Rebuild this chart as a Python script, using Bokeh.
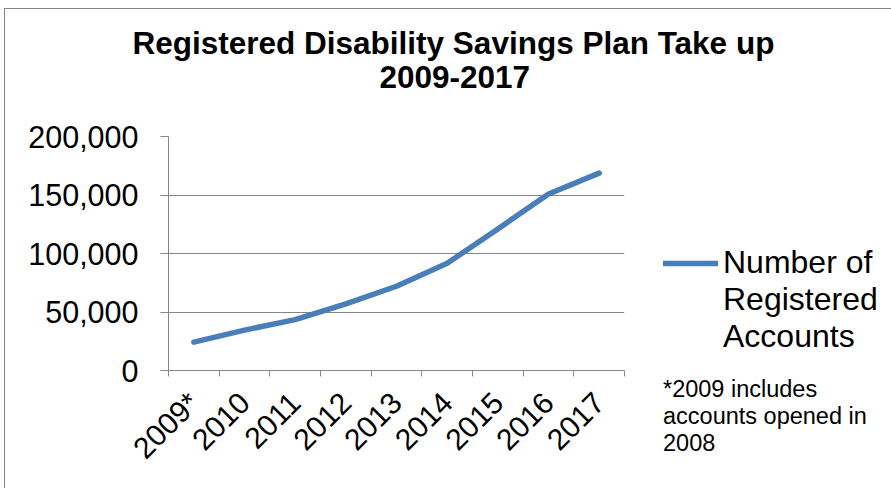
from bokeh.plotting import figure
from bokeh.models import (Range1d, FixedTicker, NumeralTickFormatter, Title,
                          Legend, LegendItem, ColumnDataSource)
from bokeh.embed import file_html
from bokeh.resources import INLINE

categories = ["2009*", "2010", "2011", "2012", "2013", "2014", "2015", "2016", "2017"]
accounts = [24200, 34500, 43500, 57000, 72000, 91600, 121000, 150800, 168700]
y_ticks = [0, 50000, 100000, 150000, 200000]
title_lines = ["Registered Disability Savings Plan Take up", "2009-2017"]
series_name = "Number of\nRegistered\nAccounts"
footnote = "*2009 includes\naccounts opened in\n2008"

FONT = "Liberation Sans"
GRAY = "#868686"
BLUE = "#4A7EBB"

xpos = [i + 0.5 for i in range(len(categories))]
src = ColumnDataSource(dict(x=xpos, y=accounts))

p = figure(frame_width=456, frame_height=234,
           x_range=Range1d(0, len(categories)), y_range=Range1d(0, 200000),
           output_backend="svg", toolbar_location=None,
           min_border_left=163, min_border_top=127, min_border_bottom=118,
           min_border_right=262)
p.outline_line_color = None
p.background_fill_color = "white"
p.border_fill_color = "white"
# chart-area border (left and top edges visible in the reference)
p.styles = {"border-left": "1px solid #868686", "border-top": "1px solid #868686",
            "margin-left": "4px", "margin-top": "8px"}

r = p.line("x", "y", source=src, line_color=BLUE, line_width=5.5,
           line_cap="round", line_join="round")

# y axis
yax = p.yaxis[0]
yax.ticker = FixedTicker(ticks=y_ticks)
yax.formatter = NumeralTickFormatter(format="0,0")
yax.axis_line_color = GRAY
yax.major_tick_line_color = GRAY
yax.major_tick_out = 8
yax.major_tick_in = 0
yax.minor_tick_line_color = None
yax.major_label_text_font = FONT
yax.major_label_text_font_size = "30.5px"
yax.major_label_text_color = "black"
yax.major_label_standoff = 22

# x axis: labels at category centres, ticks between categories
xax = p.xaxis[0]
xax.ticker = FixedTicker(ticks=xpos, minor_ticks=list(range(len(categories) + 1)))
xax.major_label_overrides = {x: c for x, c in zip(xpos, categories)}
xax.axis_line_color = GRAY
xax.major_tick_line_color = None
xax.major_tick_out = 0
xax.major_tick_in = 0
xax.minor_tick_line_color = GRAY
xax.minor_tick_out = 6
xax.minor_tick_in = 0
xax.major_label_orientation = 0.785398
xax.major_label_text_font = FONT
xax.major_label_text_font_size = "30px"
xax.major_label_text_color = "black"
xax.major_label_standoff = 21

p.xgrid.grid_line_color = None
p.ygrid.grid_line_color = GRAY
p.ygrid.grid_line_width = 1

# blank spacer between plot area and title
p.add_layout(Title(text=" ", text_font=FONT, text_font_size="10px", standoff=36), "above")

# title (two lines, centred on the chart area)
p.add_layout(Title(text=title_lines[1], align="left", offset=211, text_font=FONT,
                   text_font_style="bold", text_font_size="31.5px",
                   text_color="black", standoff=0), "above")
p.title.text = title_lines[0]
p.title.align = "left"
p.title.offset = -36
p.title.text_font = FONT
p.title.text_font_style = "bold"
p.title.text_font_size = "31.5px"
p.title.text_color = "black"
p.title.standoff = 6

legend = Legend(items=[LegendItem(label="\n\n" + series_name, renderers=[r])],
                location=(39, -87), border_line_color=None, background_fill_alpha=0,
                padding=0, margin=0, spacing=0, glyph_width=55, glyph_height=36,
                label_standoff=5, label_text_font=FONT, label_text_font_size="32px",
                label_text_color="black", label_text_line_height=1.13,
                title=footnote, title_location="below", title_standoff=21,
                title_text_font=FONT, title_text_font_size="23.5px",
                title_text_font_style="normal", title_text_color="black")
p.add_layout(legend, "right")

open("out.html", "w").write(file_html(p, INLINE))
